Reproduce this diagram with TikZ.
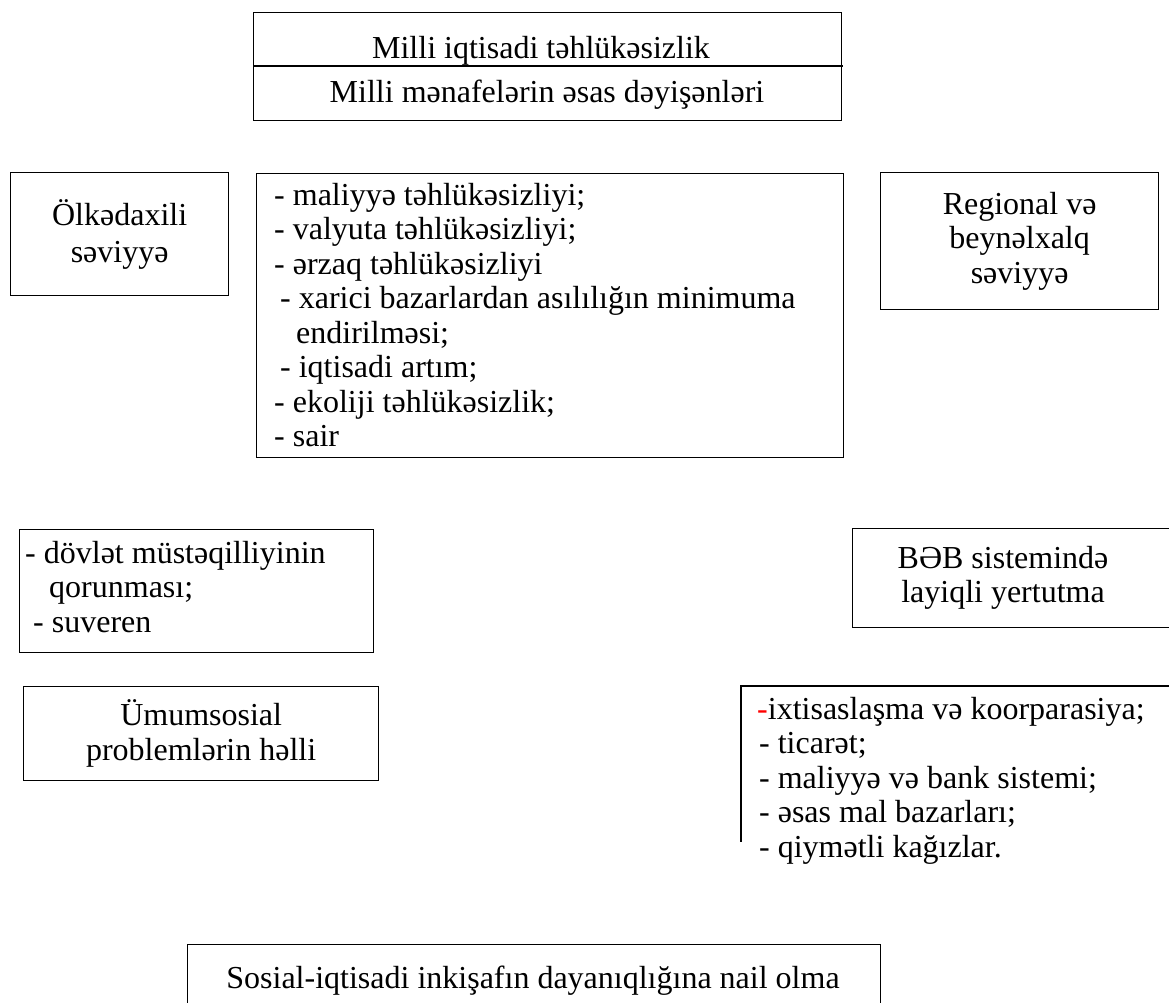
\documentclass[tikz,border=0pt]{standalone}
\usepackage{fontspec}
\setmainfont{Liberation Serif}
\begin{document}
\begin{tikzpicture}[x=1pt,y=-1pt,
  box/.style={draw=black, line width=1.3pt, inner sep=0pt, anchor=north west},
  txt/.style={inner sep=0pt, font=\fontsize{32}{34.5}\selectfont},
  ctxt/.style={txt, align=center},
  ltxt/.style={txt, align=left, anchor=north west},
]
\useasboundingbox (0,0) rectangle (1169,1003);
\clip (0,0) rectangle (1169,1003);

% top box
\node[box, minimum width=588pt, minimum height=108pt] (top) at (253,12) {};
\coordinate (dl) at (253,66);
\coordinate (dr) at (843,66);
\draw[line width=1.8pt] (dl) -- (dr);
\node[txt, anchor=base] (t1) at (541,59) {Milli iqtisadi təhlükəsizlik};
\node[txt, anchor=base] (t2) at (547,103) {Milli mənafelərin əsas dəyişənləri};

% Olkedaxili
\node[box, minimum width=218pt, minimum height=123pt] (olk) at (10,172) {};
\node[ctxt, font=\fontsize{32}{37}\selectfont] (olkt) at (olk.center) {Ölkədaxili\\səviyyə};

% middle list
\node[box, minimum width=587pt, minimum height=284pt] (mid) at (256,173) {};
\node[ltxt] (midt) at (274,183) {- maliyyə təhlükəsizliyi;\\
- valyuta təhlükəsizliyi;\\
- ərzaq təhlükəsizliyi\\
\hspace*{6pt}- xarici bazarlardan asılılığın minimuma\\
\hspace*{22pt}endirilməsi;\\
\hspace*{6pt}- iqtisadi artım;\\
- ekoliji təhlükəsizlik;\\
- sair};

% Regional
\node[box, minimum width=278pt, minimum height=137pt] (reg) at (880,172) {};
\node[ctxt] (regt) at (reg.center) {Regional və\\beynəlxalq\\səviyyə};

% dovlet
\node[box, minimum width=354pt, minimum height=123pt] (dov) at (19,529) {};
\node[ltxt] (dovt) at (25,541) {- dövlət müstəqilliyinin\\
\hspace*{24pt}qorunması;\\
\hspace*{8pt}- suveren};

% BEB
\node[box, minimum width=330pt, minimum height=99pt] (beb) at (852,528) {};
\node[ctxt] (bebt) at (1003,578) {BƏB sistemində\\layiqli yertutma};

% Umumsosial
\node[box, minimum width=355pt, minimum height=94pt] (umu) at (23,686) {};
\node[ctxt] (umut) at (umu.center) {Ümumsosial\\problemlərin həlli};

% right list (open at the bottom)
\node[inner sep=0pt, anchor=north west, minimum width=440pt, minimum height=156pt] (rl) at (741,686) {};
\draw[line width=1.3pt] (rl.north east) -- (rl.north west) -- (rl.south west);
\node[ltxt] (rlt) at (757,697) {\textcolor{red}{-}ixtisaslaşma və koorparasiya;\\
\hspace*{2pt}- ticarət;\\
\hspace*{2pt}- maliyyə və bank sistemi;\\
\hspace*{2pt}- əsas mal bazarları;\\
\hspace*{2pt}- qiymətli kağızlar.};

% bottom
\node[box, minimum width=693pt, minimum height=100pt] (bot) at (187,944) {};
\node[txt, anchor=base] (bott) at (533,988) {Sosial-iqtisadi inkişafın dayanıqlığına nail olma};
\end{tikzpicture}
\end{document}
